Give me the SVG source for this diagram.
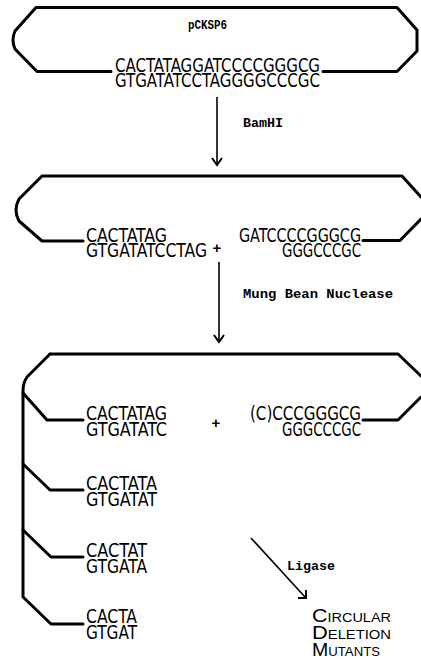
<svg xmlns="http://www.w3.org/2000/svg" width="421" height="660" viewBox="0 0 421 660">
  <style>
    .dna { fill: none; stroke: #000; stroke-width: 3; stroke-linejoin: round; stroke-linecap: round; }
    .arrow { fill: none; stroke: #000; stroke-width: 1.6; }
    .head { fill: none; stroke: #000; stroke-width: 2; stroke-linejoin: miter; }
    .seq { font-family: "DejaVu Sans Condensed", "Liberation Sans", sans-serif; font-size: 20px; fill: #000; }
    .tt { font-family: "Liberation Mono", "DejaVu Sans Mono", monospace; font-size: 13px; font-weight: bold; fill: #000; }
    .plus { font-family: "Liberation Sans", sans-serif; font-size: 15px; font-weight: bold; fill: #000; }
    .sc { font-family: "Liberation Sans", sans-serif; fill: #000; }
  </style>
  <rect width="421" height="660" fill="#fff"/>

  <!-- intact plasmid -->
  <g id="plasmid">
    <path class="dna" d="M111,71.5 L37,71.5 L15,49 Q11,40 15,31 L36,7.5 L397,7.5 L417,30 L417,51 L397,71.5 L323,71.5"/>
    <text class="tt" x="188" y="29" textLength="39" lengthAdjust="spacingAndGlyphs">pCKSP6</text>
    <text class="seq" x="115" y="72" textLength="205" lengthAdjust="spacingAndGlyphs">CACTATAGGATCCCCGGGCG</text>
    <text class="seq" x="115" y="87" textLength="205" lengthAdjust="spacingAndGlyphs">GTGATATCCTAGGGGCCCGC</text>
  </g>

  <!-- BamHI-cut plasmid -->
  <g id="cut">
    <path class="dna" d="M83,241 L42,241 L19,221 Q13,210 19,199 L42,176 L402,176 L421,197"/>
    <path class="dna" d="M363,240.5 L400,240.5 L421,219"/>
    <text class="seq" x="86" y="242" textLength="81" lengthAdjust="spacingAndGlyphs">CACTATAG</text>
    <text class="seq" x="86" y="257" textLength="121" lengthAdjust="spacingAndGlyphs">GTGATATCCTAG</text>
    <text class="plus" x="217" y="253" text-anchor="middle">+</text>
    <text class="seq" x="239" y="242" textLength="122" lengthAdjust="spacingAndGlyphs">GATCCCCGGGCG</text>
    <text class="seq" x="282" y="257" textLength="79" lengthAdjust="spacingAndGlyphs">GGGCCCGC</text>
  </g>

  <!-- nuclease-trimmed ends -->
  <g id="trimmed">
    <path class="dna" d="M50,354 L27,377 Q23,383 23,391 L23,597 L51,624 L83,624"/>
    <path class="dna" d="M50,354 L398,354 L421,376"/>
    <path class="dna" d="M23,393 L47,420 L83,420"/>
    <path class="dna" d="M23,464 L50,490 L83,490"/>
    <path class="dna" d="M23,530 L51,557 L83,557"/>
    <path class="dna" d="M363,420 L398,420 L421,397"/>
    <text class="seq" x="86" y="420" textLength="81" lengthAdjust="spacingAndGlyphs">CACTATAG</text>
    <text class="seq" x="86" y="436" textLength="81" lengthAdjust="spacingAndGlyphs">GTGATATC</text>
    <text class="plus" x="216" y="428" text-anchor="middle">+</text>
    <text class="seq" x="250" y="420" textLength="111" lengthAdjust="spacingAndGlyphs">(C)CCCGGGCG</text>
    <text class="seq" x="282" y="436" textLength="79" lengthAdjust="spacingAndGlyphs">GGGCCCGC</text>
    <text class="seq" x="86" y="490" textLength="71" lengthAdjust="spacingAndGlyphs">CACTATA</text>
    <text class="seq" x="86" y="506" textLength="71" lengthAdjust="spacingAndGlyphs">GTGATAT</text>
    <text class="seq" x="86" y="557" textLength="61" lengthAdjust="spacingAndGlyphs">CACTAT</text>
    <text class="seq" x="86" y="573" textLength="61" lengthAdjust="spacingAndGlyphs">GTGATA</text>
    <text class="seq" x="86" y="623" textLength="51" lengthAdjust="spacingAndGlyphs">CACTA</text>
    <text class="seq" x="86" y="639" textLength="51" lengthAdjust="spacingAndGlyphs">GTGAT</text>
  </g>

  <!-- product -->
  <g id="mutants">
    <text class="sc" x="312" y="622" textLength="79" lengthAdjust="spacingAndGlyphs"><tspan font-size="18.5">C</tspan><tspan font-size="12.5">IRCULAR</tspan></text>
    <text class="sc" x="312" y="639" textLength="79" lengthAdjust="spacingAndGlyphs"><tspan font-size="18.5">D</tspan><tspan font-size="12.5">ELETION</tspan></text>
    <text class="sc" x="312" y="656" textLength="68" lengthAdjust="spacingAndGlyphs"><tspan font-size="18.5">M</tspan><tspan font-size="12.5">UTANTS</tspan></text>
  </g>

  <!-- reaction steps -->
  <g id="connectors">
    <line class="arrow" x1="217" y1="97" x2="217" y2="164"/>
    <polyline class="head" points="212,158 217,165 222,158"/>
    <text class="tt" x="243" y="127" textLength="40" lengthAdjust="spacingAndGlyphs">BamHI</text>

    <line class="arrow" x1="219" y1="262" x2="219" y2="341"/>
    <polyline class="head" points="214,335 219,342 224,335"/>
    <text class="tt" x="243" y="298" textLength="150" lengthAdjust="spacingAndGlyphs">Mung Bean Nuclease</text>

    <line class="arrow" x1="251" y1="538" x2="305" y2="597"/>
    <polyline class="head" points="298,598 306,598 306,590"/>
    <text class="tt" x="287" y="570" textLength="48" lengthAdjust="spacingAndGlyphs">Ligase</text>
  </g>
</svg>
